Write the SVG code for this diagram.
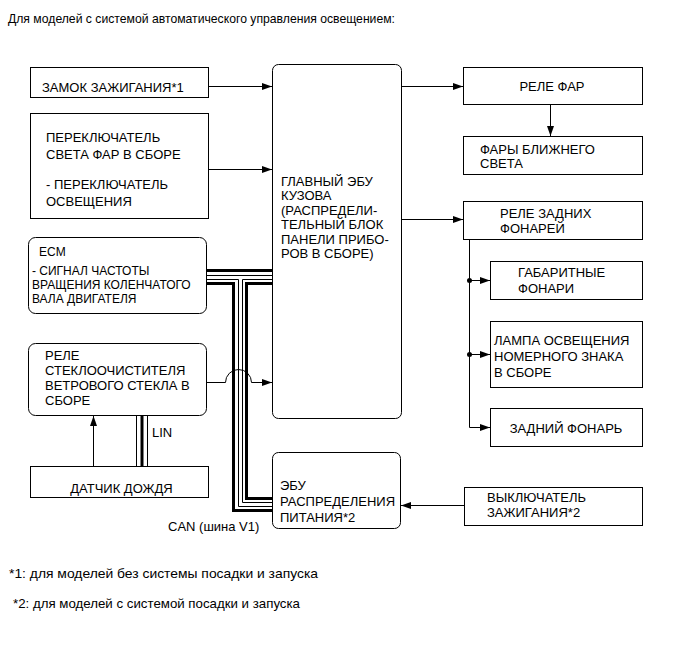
<svg xmlns="http://www.w3.org/2000/svg" width="689" height="659" viewBox="0 0 689 659">
<style>
text{font-family:"Liberation Sans",Arial,sans-serif;font-size:13px;fill:#000}
.box{fill:#fff;stroke:#000;stroke-width:1}
.ln{fill:none;stroke:#000;stroke-width:1}
.thick{fill:none;stroke:#000;stroke-width:3}
.mid{text-anchor:middle}
.sm{font-size:12px}
</style>
<defs>
<marker id="ah" markerUnits="userSpaceOnUse" markerWidth="11" markerHeight="8" refX="10" refY="3.5" orient="auto">
<path d="M0,0 L10,3.5 L0,7 z" fill="#000"/>
</marker>
</defs>
<text x="8" y="23" font-size="13.5" textLength="387" lengthAdjust="spacingAndGlyphs">Для моделей с системой автоматического управления освещением:</text>

<g id="connectors">
<line class="ln" x1="208.5" y1="86.5" x2="272" y2="86.5" marker-end="url(#ah)"/>
<line class="ln" x1="208.5" y1="169.5" x2="272" y2="169.5" marker-end="url(#ah)"/>
<line class="ln" x1="401.5" y1="86.5" x2="463" y2="86.5" marker-end="url(#ah)"/>
<line class="ln" x1="550.5" y1="104.5" x2="550.5" y2="136" marker-end="url(#ah)"/>
<line class="ln" x1="401.5" y1="219.5" x2="463" y2="219.5" marker-end="url(#ah)"/>
<path class="ln" d="M469.5,239.5 V427.5 H490" marker-end="url(#ah)"/>
<line class="ln" x1="469.5" y1="280.5" x2="490" y2="280.5" marker-end="url(#ah)"/>
<line class="ln" x1="469.5" y1="354.5" x2="490" y2="354.5" marker-end="url(#ah)"/>
<circle cx="469.5" cy="280.5" r="2.5" fill="#000"/>
<circle cx="469.5" cy="354.5" r="2.5" fill="#000"/>
<line class="ln" x1="464" y1="505.5" x2="401" y2="505.5" marker-end="url(#ah)"/>
<line class="ln" x1="93.5" y1="466" x2="93.5" y2="416" marker-end="url(#ah)"/>
<path class="ln" d="M206.5,382.5 H225.5 A13,13 0 0 1 251.5,382.5 H272" marker-end="url(#ah)"/>
<!-- CAN bus -->
<path class="thick" d="M206.5,270.5 H272.5"/>
<path class="ln" d="M206.5,275.5 H272.5"/>
<path class="thick" d="M206.5,283.5 H233.5 V510.5 H272.5"/>
<path class="ln" d="M206.5,279.5 H238.5 V506.5 H272.5"/>
<path class="ln" d="M272.5,279.5 H242.5 V502.5 H272.5"/>
<path class="thick" d="M272.5,283.5 H246.5 V498.5 H272.5"/>
<!-- LIN -->
<line class="ln" x1="136.5" y1="415.5" x2="136.5" y2="466.5"/>
<line class="thick" x1="142" y1="415.5" x2="142" y2="466.5"/>
<line class="ln" x1="147.5" y1="415.5" x2="147.5" y2="466.5"/>
<text x="152" y="437">LIN</text>
<text x="168" y="531">CAN (шина V1)</text>
</g>

<g id="ignition-lock">
<rect class="box" x="30.5" y="67.5" width="178" height="30"/>
<text x="42" y="92">ЗАМОК ЗАЖИГАНИЯ*1</text>
</g>
<g id="headlight-switch">
<rect class="box" x="30.5" y="113.5" width="178" height="105"/>
<text x="46" y="142">ПЕРЕКЛЮЧАТЕЛЬ</text>
<text x="46" y="159">СВЕТА ФАР В СБОРЕ</text>
<text x="46" y="189">- ПЕРЕКЛЮЧАТЕЛЬ</text>
<text x="46" y="206">ОСВЕЩЕНИЯ</text>
</g>
<g id="ecm">
<rect class="box" x="28.5" y="237.5" width="178" height="76" rx="7"/>
<text class="sm" x="39" y="256">ECM</text>
<text class="sm" x="32" y="274.5">- СИГНАЛ ЧАСТОТЫ</text>
<text class="sm" x="32" y="289">ВРАЩЕНИЯ КОЛЕНЧАТОГО</text>
<text class="sm" x="32" y="303">ВАЛА ДВИГАТЕЛЯ</text>
</g>
<g id="wiper-relay">
<rect class="box" x="28.5" y="343.5" width="178" height="72" rx="7"/>
<text x="45" y="359.5">РЕЛЕ</text>
<text x="45" y="374.5">СТЕКЛООЧИСТИТЕЛЯ</text>
<text x="45" y="390">ВЕТРОВОГО СТЕКЛА В</text>
<text x="45" y="405">СБОРЕ</text>
</g>
<g id="rain-sensor">
<rect class="box" x="30.5" y="466.5" width="178" height="31"/>
<text class="mid" x="121.5" y="493">ДАТЧИК ДОЖДЯ</text>
</g>
<g id="main-body-ecu">
<rect class="box" x="272.5" y="64.5" width="129" height="354" rx="6"/>
<text x="281" y="186">ГЛАВНЫЙ ЭБУ</text>
<text x="281" y="200.4">КУЗОВА</text>
<text x="281" y="214.8">(РАСПРЕДЕЛИ-</text>
<text x="281" y="229.2">ТЕЛЬНЫЙ БЛОК</text>
<text x="281" y="243.6">ПАНЕЛИ ПРИБО-</text>
<text x="281" y="258">РОВ В СБОРЕ)</text>
</g>
<g id="power-distribution-ecu">
<rect class="box" x="272.5" y="452.5" width="128" height="76" rx="6"/>
<text x="280" y="490">ЭБУ</text>
<text x="280" y="506">РАСПРЕДЕЛЕНИЯ</text>
<text x="280" y="522">ПИТАНИЯ*2</text>
</g>
<g id="headlight-relay">
<rect class="box" x="463.5" y="67.5" width="179" height="37"/>
<text class="mid" x="552" y="91">РЕЛЕ ФАР</text>
</g>
<g id="low-beam">
<rect class="box" x="463.5" y="136.5" width="179" height="38"/>
<text x="480" y="153.5">ФАРЫ БЛИЖНЕГО</text>
<text x="480" y="168">СВЕТА</text>
</g>
<g id="tail-relay">
<rect class="box" x="463.5" y="201.5" width="179" height="38"/>
<text x="500" y="217.5">РЕЛЕ ЗАДНИХ</text>
<text x="500" y="232.5">ФОНАРЕЙ</text>
</g>
<g id="clearance-lights">
<rect class="box" x="490.5" y="261.5" width="152" height="38"/>
<text x="518" y="277">ГАБАРИТНЫЕ</text>
<text x="518" y="293">ФОНАРИ</text>
</g>
<g id="license-lamp">
<rect class="box" x="490.5" y="321.5" width="152" height="66"/>
<text x="494" y="344.5">ЛАМПА ОСВЕЩЕНИЯ</text>
<text x="494" y="361">НОМЕРНОГО ЗНАКА</text>
<text x="494" y="377">В СБОРЕ</text>
</g>
<g id="tail-light">
<rect class="box" x="490.5" y="408.5" width="152" height="38"/>
<text class="mid" x="566" y="433">ЗАДНИЙ ФОНАРЬ</text>
</g>
<g id="ignition-switch">
<rect class="box" x="464.5" y="487.5" width="178" height="38"/>
<text x="487" y="502">ВЫКЛЮЧАТЕЛЬ</text>
<text x="487" y="516.5">ЗАЖИГАНИЯ*2</text>
</g>

<text x="9" y="578" textLength="309" lengthAdjust="spacingAndGlyphs">*1: для моделей без системы посадки и запуска</text>
<text x="13" y="608" textLength="287" lengthAdjust="spacingAndGlyphs">*2: для моделей с системой посадки и запуска</text>
</svg>
